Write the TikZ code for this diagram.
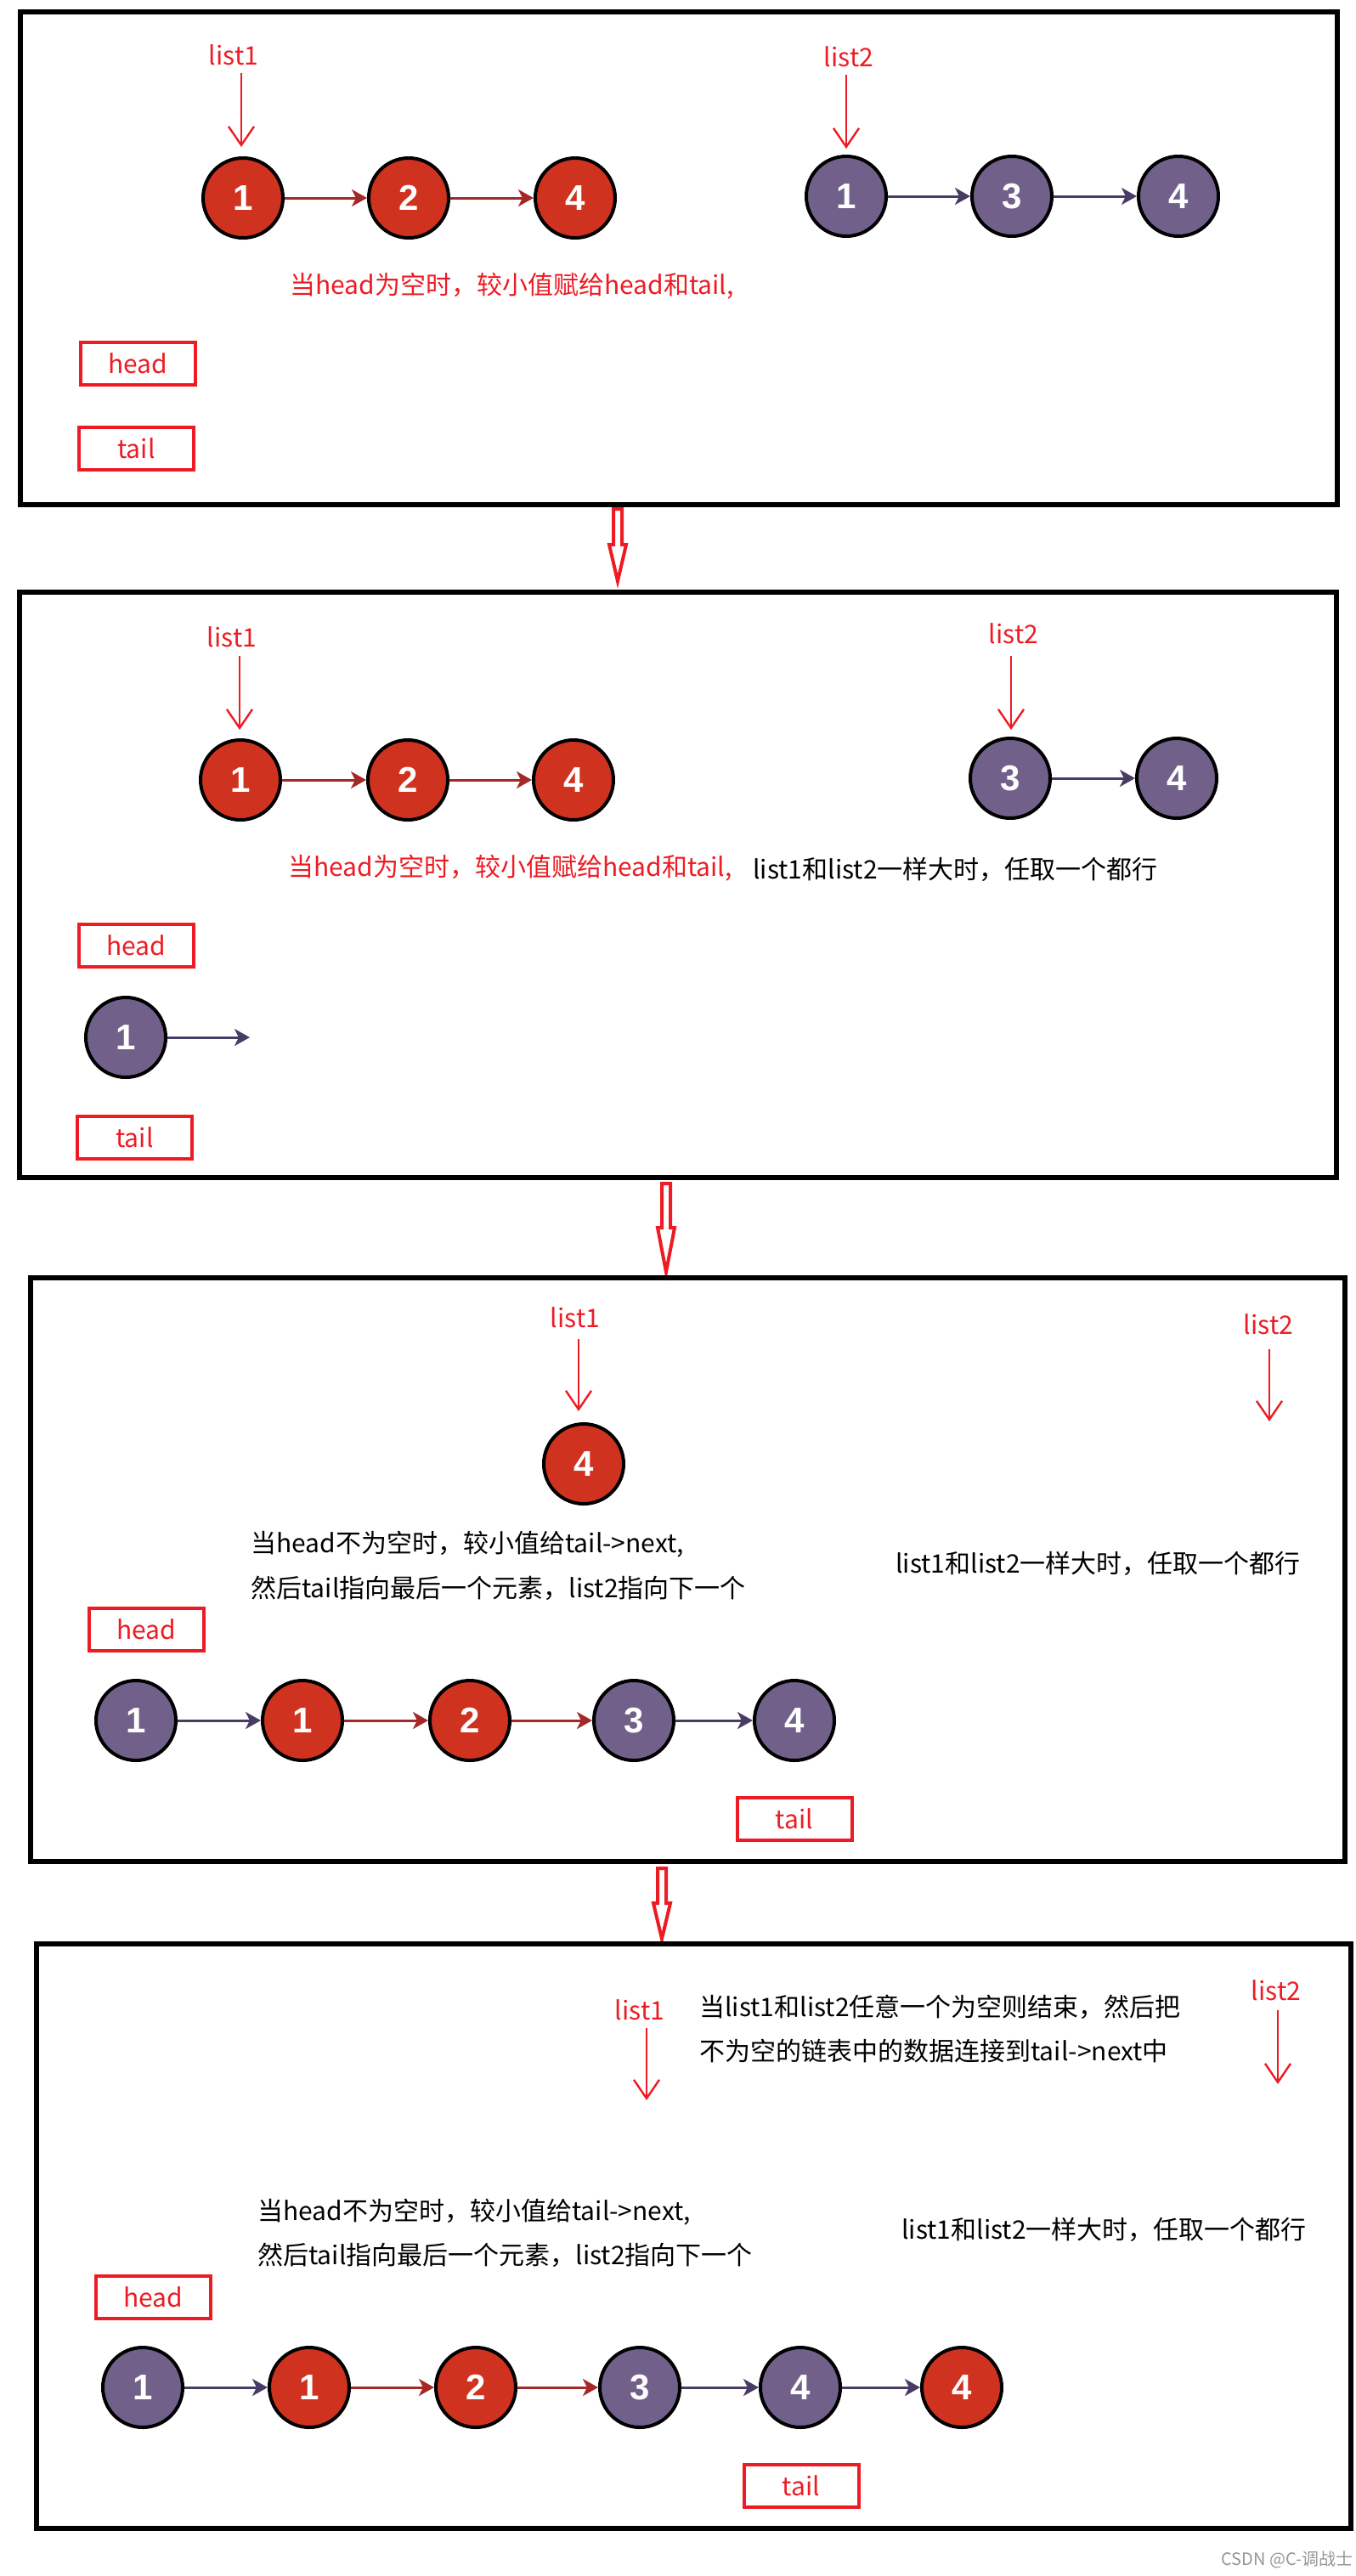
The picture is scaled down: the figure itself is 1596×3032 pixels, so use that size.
\documentclass[tikz,border=0pt]{standalone}
\usepackage{fontspec}
\setmainfont{Noto Sans CJK SC}
\newfontfamily\numfont{Liberation Sans}
\usetikzlibrary{arrows.meta}
\definecolor{annred}{RGB}{237,28,36}
\definecolor{nodered}{RGB}{208,50,32}
\definecolor{nodepurple}{RGB}{113,97,138}
\definecolor{linkred}{RGB}{165,40,40}
\definecolor{linkpurple}{RGB}{72,60,100}
\definecolor{wmgray}{RGB}{150,150,150}
\tikzset{
  panel/.style={draw=black, line width=3pt},
  nodebase/.style={circle, draw=black, line width=2pt, minimum size=47pt, inner sep=0pt, text=white, font=\numfont\bfseries\fontsize{21}{21}\selectfont},
  rn/.style={nodebase, fill=nodered},
  pn/.style={nodebase, fill=nodepurple},
  rlink/.style={draw=linkred, line width=1.5pt, -{Stealth[length=9pt,width=10pt,inset=2.5pt]}},
  plink/.style={draw=linkpurple, line width=1.5pt, -{Stealth[length=9pt,width=10pt,inset=2.5pt]}},
  ptr/.style={draw=annred, line width=1.2pt, -{Straight Barb[length=11pt,width=15pt]}},
  lbl/.style={text=annred, font=\fontsize{15}{18}\selectfont, inner sep=0pt},
  rtxt/.style={text=annred, font=\fontsize{15}{18}\selectfont, inner sep=0pt, anchor=west},
  btxt/.style={text=black, font=\fontsize{15}{18}\selectfont, inner sep=0pt, anchor=west},
  namebox/.style={draw=annred, line width=2pt, text=annred, font=\fontsize{15}{18}\selectfont, inner sep=0pt, minimum width=67.5pt, minimum height=25pt},
  hollow/.style={draw=annred, line width=2pt, line join=miter, fill=white}
}
\newcommand{\downarr}[4]{% x, top, headstart, tip
  \draw[hollow] (#1-5,#2) -- (#1+5,#2) -- (#1+5,#3) -- (#1+10,#3) -- (#1,#4) -- (#1-10,#3) -- (#1-5,#3) -- cycle;}
\begin{document}
\begin{tikzpicture}[x=0.5pt,y=-0.5pt]
\fill[white] (0,0) rectangle (1596,3032);
\useasboundingbox (0,0) rectangle (1596,3032);

% ================= Panel 1 =================
\draw[panel] (24,14) rectangle (1574,594);
\node[lbl] (a-l1) at (275,65) {list1};
\coordinate (a-l1s) at (284,86); \coordinate (a-l1e) at (284,173);
\draw[ptr] (a-l1s) -- (a-l1e);
\node[rn] (a-r1) at (286,233) {1};
\node[rn] (a-r2) at (481,233) {2};
\node[rn] (a-r4) at (677,233) {4};
\draw[rlink] (a-r1) -- (a-r2);
\draw[rlink] (a-r2) -- (a-r4);
\node[lbl] (a-l2) at (999,67) {list2};
\coordinate (a-l2s) at (996,88); \coordinate (a-l2e) at (996,175);
\draw[ptr] (a-l2s) -- (a-l2e);
\node[pn] (a-p1) at (996,231) {1};
\node[pn] (a-p3) at (1191,231) {3};
\node[pn] (a-p4) at (1387,231) {4};
\draw[plink] (a-p1) -- (a-p3);
\draw[plink] (a-p3) -- (a-p4);
\node[rtxt] (a-t1) at (341,337) {当head为空时，较小值赋给head和tail,};
\node[namebox] (a-head) at (162.5,428) {head};
\node[namebox] (a-tail) at (160.5,528) {tail};

\downarr{727}{599}{641}{684}

% ================= Panel 2 =================
\draw[panel] (23,697) rectangle (1573,1386);
\node[lbl] (b-l1) at (273,750) {list1};
\coordinate (b-l1s) at (282,772); \coordinate (b-l1e) at (282,859);
\draw[ptr] (b-l1s) -- (b-l1e);
\node[rn] (b-r1) at (283,918) {1};
\node[rn] (b-r2) at (480,918) {2};
\node[rn] (b-r4) at (675,918) {4};
\draw[rlink] (b-r1) -- (b-r2);
\draw[rlink] (b-r2) -- (b-r4);
\node[lbl] (b-l2) at (1193,746) {list2};
\coordinate (b-l2s) at (1190,772); \coordinate (b-l2e) at (1190,859);
\draw[ptr] (b-l2s) -- (b-l2e);
\node[pn] (b-p3) at (1189,916) {3};
\node[pn] (b-p4) at (1385,916) {4};
\draw[plink] (b-p3) -- (b-p4);
\node[rtxt] (b-t1) at (339,1022) {当head为空时，较小值赋给head和tail,};
\node[btxt] (b-t2) at (886,1023) {list1和list2一样大时，任取一个都行};
\node[namebox] (b-head) at (160.5,1113) {head};
\node[pn] (b-p1) at (148,1221) {1};
\coordinate (b-p1e) at (294,1221);
\draw[plink] (b-p1) -- (b-p1e);
\node[namebox] (b-tail) at (158.5,1338.5) {tail};

\downarr{784}{1393}{1445}{1497}

% ================= Panel 3 =================
\draw[panel] (36,1504) rectangle (1583,2191);
\node[lbl] (c-l1) at (677,1551) {list1};
\coordinate (c-l1s) at (681,1576); \coordinate (c-l1e) at (681,1661);
\draw[ptr] (c-l1s) -- (c-l1e);
\node[rn] (c-r4) at (687,1723) {4};
\node[lbl] (c-l2) at (1493,1559) {list2};
\coordinate (c-l2s) at (1494,1588); \coordinate (c-l2e) at (1494,1673);
\draw[ptr] (c-l2s) -- (c-l2e);
\node[btxt] (c-t1) at (295,1818) {当head不为空时，较小值给tail->next,};
\node[btxt] (c-t2) at (295,1869) {然后tail指向最后一个元素，list2指向下一个};
\node[btxt] (c-t3) at (1054,1840) {list1和list2一样大时，任取一个都行};
\node[namebox] (c-head) at (172.5,1918) {head};
\node[pn] (c-n1) at (160,2025) {1};
\node[rn] (c-n2) at (356,2025) {1};
\node[rn] (c-n3) at (553,2025) {2};
\node[pn] (c-n4) at (746,2025) {3};
\node[pn] (c-n5) at (935,2025) {4};
\draw[plink] (c-n1) -- (c-n2);
\draw[rlink] (c-n2) -- (c-n3);
\draw[rlink] (c-n3) -- (c-n4);
\draw[plink] (c-n4) -- (c-n5);
\node[namebox] (c-tail) at (935,2140.5) {tail};

\downarr{779}{2199}{2240}{2282}

% ================= Panel 4 =================
\draw[panel] (43,2288) rectangle (1590,2976);
\node[lbl] (d-l1) at (753,2366) {list1};
\coordinate (d-l1s) at (761,2387); \coordinate (d-l1e) at (761,2472);
\draw[ptr] (d-l1s) -- (d-l1e);
\node[btxt] (d-t1) at (823,2362) {当list1和list2任意一个为空则结束，然后把};
\node[btxt] (d-t2) at (823,2414) {不为空的链表中的数据连接到tail->next中};
\node[lbl] (d-l2) at (1502,2343) {list2};
\coordinate (d-l2s) at (1504,2366); \coordinate (d-l2e) at (1504,2453);
\draw[ptr] (d-l2s) -- (d-l2e);
\node[btxt] (d-t3) at (303,2604) {当head不为空时，较小值给tail->next,};
\node[btxt] (d-t4) at (303,2654) {然后tail指向最后一个元素，list2指向下一个};
\node[btxt] (d-t5) at (1061,2624) {list1和list2一样大时，任取一个都行};
\node[namebox] (d-head) at (180.5,2703.5) {head};
\node[pn] (d-n1) at (168,2810) {1};
\node[rn] (d-n2) at (364,2810) {1};
\node[rn] (d-n3) at (560,2810) {2};
\node[pn] (d-n4) at (753,2810) {3};
\node[pn] (d-n5) at (942,2810) {4};
\node[rn] (d-n6) at (1132,2810) {4};
\draw[plink] (d-n1) -- (d-n2);
\draw[rlink] (d-n2) -- (d-n3);
\draw[rlink] (d-n3) -- (d-n4);
\draw[plink] (d-n4) -- (d-n5);
\draw[plink] (d-n5) -- (d-n6);
\node[namebox] (d-tail) at (943,2925.5) {tail};

\node[text=wmgray, font=\fontsize{10}{12}\selectfont, inner sep=0pt] (wm) at (1515,3013) {CSDN @C-调战士};
\end{tikzpicture}
\end{document}
